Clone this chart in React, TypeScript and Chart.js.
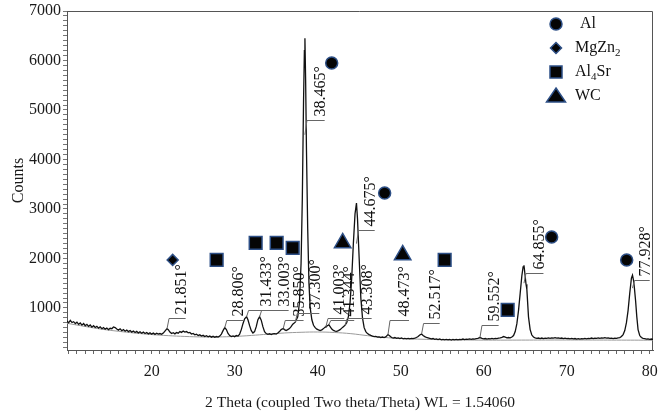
import React, { useEffect, useRef } from 'react';
import { Chart, registerables } from 'chart.js';

Chart.register(...registerables);

const SERIF = '"Liberation Serif", "Times New Roman", serif';

// Diffraction scan: [2θ (deg), intensity (counts)]
const scanLowAngle: [number, number][] = [
  [9.8, 735], [10.0, 700], [10.2, 748], [10.4, 705], [10.6, 722], [10.8, 684], [11.0, 712], [11.2, 668],
  [11.4, 695], [11.6, 652], [11.8, 684], [12.0, 640], [12.2, 668], [12.4, 628], [12.6, 655], [12.8, 612],
  [13.0, 640], [13.2, 605], [13.4, 628], [13.6, 592], [13.8, 618], [14.0, 580], [14.2, 602], [14.4, 572],
  [14.6, 594], [14.8, 562], [15.0, 588], [15.2, 580], [15.4, 615], [15.6, 604], [15.8, 575], [16.0, 552],
  [16.2, 578], [16.4, 540], [16.6, 562], [16.8, 530], [17.0, 552], [17.2, 522], [17.4, 544], [17.6, 512],
  [17.8, 534], [18.0, 505], [18.2, 526], [18.4, 496], [18.6, 518], [18.8, 490], [19.0, 512], [19.2, 484],
  [19.4, 503], [19.6, 476], [19.8, 498], [20.0, 470], [20.2, 492], [20.4, 466], [20.6, 488], [20.8, 470],
  [21.0, 482], [21.2, 466], [21.4, 492], [21.6, 532], [21.85, 582], [22.0, 560], [22.2, 512], [22.4, 482],
  [22.6, 498], [22.8, 476], [23.0, 502], [23.2, 490], [23.4, 522], [23.6, 506], [23.8, 532], [24.0, 512],
  [24.2, 522], [24.4, 496], [24.6, 504], [24.8, 472], [25.0, 484], [25.2, 456], [25.4, 468], [25.6, 442],
  [25.8, 456], [26.0, 432], [26.2, 446], [26.4, 422], [26.6, 438], [26.8, 416], [27.0, 432], [27.2, 410],
  [27.4, 426], [27.6, 406], [27.8, 422], [28.0, 412], [28.2, 432], [28.4, 472], [28.6, 542], [28.806, 602],
  [29.0, 562], [29.2, 484], [29.4, 442], [29.6, 422], [29.8, 436],
];

const scanMidAngle: [number, number][] = [
  [30.0, 420], [30.2, 442], [30.4, 432], [30.6, 472], [30.8, 562], [31.0, 682], [31.2, 782], [31.433, 822],
  [31.6, 762], [31.8, 642], [32.0, 542], [32.2, 492], [32.4, 522], [32.6, 622], [32.8, 762], [33.003, 822],
  [33.2, 752], [33.4, 622], [33.6, 522], [33.8, 482], [34.0, 466], [34.2, 478], [34.4, 462], [34.6, 474],
  [34.8, 482], [35.0, 472], [35.2, 492], [35.4, 522], [35.6, 562], [35.85, 584], [36.0, 562], [36.2, 542],
  [36.4, 562], [36.6, 582], [36.8, 622], [37.0, 672], [37.3, 712], [37.6, 822], [37.8, 1100], [38.0, 1900],
  [38.15, 3200], [38.3, 5200], [38.4, 6200], [38.465, 6450], [38.55, 5600], [38.65, 4200], [38.8, 2600],
  [38.95, 1500], [39.1, 1000], [39.3, 760], [39.5, 650], [39.7, 602], [39.9, 572], [40.1, 556], [40.3, 542],
  [40.5, 556], [40.7, 582], [40.9, 612], [41.003, 628], [41.2, 642], [41.344, 662], [41.5, 622], [41.7, 572],
  [41.9, 546], [42.1, 532], [42.3, 526], [42.5, 542], [42.7, 562], [42.9, 592], [43.1, 622], [43.308, 652],
  [43.5, 702], [43.7, 822], [43.9, 1100], [44.1, 1600], [44.3, 2300], [44.5, 2900], [44.675, 3120],
  [44.8, 2800], [45.0, 2000], [45.2, 1200], [45.4, 800], [45.6, 602], [45.8, 522], [46.0, 482], [46.2, 462],
  [46.4, 446], [46.6, 432], [46.8, 422], [47.0, 426], [47.2, 412], [47.4, 416], [47.6, 402], [47.8, 412],
  [48.0, 402], [48.2, 416], [48.473, 462], [48.7, 432], [48.9, 402], [49.1, 392], [49.3, 402], [49.5, 386],
  [49.7, 396], [49.9, 382],
];

const scanHighAngle: [number, number][] = [
  [50.1, 392], [50.3, 376], [50.5, 386], [50.7, 374], [50.9, 386], [51.1, 376], [51.3, 386], [51.5, 380],
  [51.7, 390], [51.9, 402], [52.1, 422], [52.3, 452], [52.517, 472], [52.7, 442], [52.9, 420], [53.1, 406],
  [53.3, 396], [53.5, 386], [53.7, 376], [53.9, 382], [54.1, 366], [54.3, 376], [54.5, 362], [54.7, 372],
  [54.9, 356], [55.1, 366], [55.3, 356], [55.5, 366], [55.7, 354], [55.9, 362], [56.1, 350], [56.3, 362],
  [56.5, 354], [56.7, 366], [56.9, 356], [57.1, 366], [57.3, 360], [57.5, 372], [57.7, 360], [57.9, 370],
  [58.1, 364], [58.3, 376], [58.5, 366], [58.7, 376], [58.9, 370], [59.1, 380], [59.3, 386], [59.552, 402],
  [59.8, 386], [60.0, 376], [60.2, 382], [60.4, 370], [60.6, 380], [60.8, 374], [61.0, 386], [61.2, 376],
  [61.4, 386], [61.6, 380], [61.8, 392], [62.0, 396], [62.2, 406], [62.4, 422], [62.6, 410], [62.8, 396],
  [63.0, 402], [63.2, 396], [63.4, 412], [63.6, 442], [63.8, 522], [64.0, 682], [64.2, 952], [64.4, 1300],
  [64.6, 1650], [64.75, 1830], [64.855, 1860], [65.0, 1640], [65.1, 1480], [65.2, 1380], [65.4, 820],
  [65.6, 562], [65.8, 452], [66.0, 412], [66.2, 396], [66.4, 386], [66.6, 392], [66.8, 380], [67.0, 392],
  [67.2, 380], [67.4, 390], [67.6, 384], [67.8, 396], [68.0, 386], [68.2, 396], [68.4, 390], [68.6, 400],
  [68.8, 390], [69.0, 396], [69.2, 386], [69.4, 392], [69.6, 380], [69.8, 390], [70.0, 380], [70.2, 386],
  [70.4, 376], [70.6, 386], [70.8, 374], [71.0, 382], [71.2, 370], [71.4, 380], [71.6, 370], [71.8, 380],
  [72.0, 374], [72.2, 386], [72.4, 376], [72.6, 386], [72.8, 380], [73.0, 392], [73.2, 380], [73.4, 390],
  [73.6, 384], [73.8, 396], [74.0, 386], [74.2, 396], [74.4, 390], [74.6, 400], [74.8, 390], [75.0, 396],
  [75.2, 384], [75.4, 390], [75.6, 380], [75.8, 390], [76.0, 386], [76.2, 396], [76.4, 402], [76.6, 422],
  [76.8, 462], [77.0, 542], [77.2, 702], [77.4, 952], [77.6, 1300], [77.8, 1600], [77.928, 1660],
  [78.05, 1560], [78.15, 1420], [78.3, 1150], [78.45, 820], [78.6, 562], [78.8, 442], [79.0, 402],
  [79.2, 386], [79.4, 380], [79.6, 370], [79.8, 376], [80.0, 366], [80.2, 372], [80.4, 362],
];

// Fitted background under the pattern
const backgroundFit: [number, number][] = [
  [9.8, 690], [12, 625], [14, 570], [16, 528], [18, 492], [20, 462], [22, 440], [24, 424], [26, 414],
  [28, 414], [30, 424], [32, 444], [34, 470], [36, 494], [38, 508], [40, 514], [42, 504], [44, 480],
  [46, 440], [48, 404], [50, 384], [52, 370], [56, 356], [60, 350], [64, 350], [68, 352], [72, 352],
  [76, 350], [80.4, 348],
];

// Labelled reflections: 2θ, count where the leader leaves the peak, leader height, label centre (2θ)
const peakAngles = [21.851, 28.806, 31.433, 33.003, 35.85, 37.3, 38.465, 41.003, 41.344, 43.308, 44.675, 48.473, 52.517, 59.552, 64.855, 77.928];
const leaderFrom = [580, 600, 820, 820, 584, 712, 4500, 628, 662, 652, 2300, 462, 472, 402, 1500, 1400];
const leaderLevel = [800, 760, 960, 960, 760, 900, 4800, 800, 760, 800, 2580, 760, 700, 660, 1700, 1560];
const labelAngle = [23.49, 30.4, 33.8, 35.9, 37.7, 39.6, 40.24, 42.6, 43.8, 45.9, 46.27, 50.4, 54.1, 61.2, 66.6, 79.4];

// Phase identification symbols: [2θ, counts]
const phaseNames = ['Al', 'MgZn2', 'Al4Sr', 'WC'];
const alMarks: [number, number][] = [[41.69, 5950], [48.07, 3323], [68.19, 2434], [77.23, 1970]];
const mgZn2Marks: [number, number][] = [[22.53, 1970]];
const al4SrMarks: [number, number][] = [[27.83, 1970], [32.53, 2313], [35.06, 2313], [36.99, 2212], [55.3, 1970], [62.89, 960]];
const wcMarks: [number, number][] = [[43.01, 2313], [50.24, 2070]];

const xTickLabels = [20, 30, 40, 50, 60, 70, 80];
const yTickLabels = [1000, 2000, 3000, 4000, 5000, 6000, 7000];

const MARK_FILL = '#050505';
const MARK_EDGE = '#2d4f86';

const toXY = (pairs: [number, number][]) => pairs.map(([x, y]) => ({ x, y }));

function drawSymbol(ctx: CanvasRenderingContext2D, kind: string, x: number, y: number) {
  ctx.beginPath();
  if (kind === 'circle') {
    ctx.arc(x, y, 6, 0, Math.PI * 2);
  } else if (kind === 'diamond') {
    ctx.moveTo(x, y - 5.5); ctx.lineTo(x + 5.5, y); ctx.lineTo(x, y + 5.5); ctx.lineTo(x - 5.5, y);
    ctx.closePath();
  } else if (kind === 'square') {
    ctx.rect(x - 6, y - 6, 12, 12);
  } else {
    ctx.moveTo(x, y - 8); ctx.lineTo(x + 9.5, y + 6); ctx.lineTo(x - 9.5, y + 6); ctx.closePath();
  }
  ctx.fillStyle = MARK_FILL;
  ctx.fill();
  ctx.strokeStyle = MARK_EDGE;
  ctx.lineWidth = 1.5;
  ctx.stroke();
}

// Frame along top and right of the plot area
const framePlugin = {
  id: 'frame',
  beforeDatasetsDraw(chart: any) {
    const { ctx, chartArea: a } = chart;
    ctx.save();
    ctx.strokeStyle = '#555';
    ctx.lineWidth = 1;
    ctx.beginPath();
    ctx.moveTo(a.left, a.top + 0.5);
    ctx.lineTo(a.right - 0.5, a.top + 0.5);
    ctx.lineTo(a.right - 0.5, a.bottom);
    ctx.stroke();
    ctx.restore();
  },
};

// Leaders and rotated 2θ labels for each indexed reflection
const peakLabelPlugin = {
  id: 'peakLabels',
  afterDatasetsDraw(chart: any) {
    const { ctx, scales: { x, y } } = chart;
    ctx.save();
    ctx.font = `16px ${SERIF}`;
    ctx.fillStyle = '#111';
    peakAngles.forEach((p, i) => {
      const px = x.getPixelForValue(p);
      const y0 = y.getPixelForValue(leaderFrom[i]);
      const y1 = Math.round(y.getPixelForValue(leaderLevel[i])) + 0.5;
      const lx = x.getPixelForValue(labelAngle[i]);
      ctx.strokeStyle = '#666';
      ctx.lineWidth = 1;
      ctx.beginPath();
      ctx.moveTo(px, y0);
      ctx.lineTo(px + 2, y1);
      ctx.lineTo(lx + 5, y1);
      ctx.stroke();
      ctx.save();
      ctx.translate(lx + 1, y1 - 4);
      ctx.rotate(-Math.PI / 2);
      ctx.textAlign = 'left';
      ctx.textBaseline = 'middle';
      ctx.fillText(`${p.toFixed(3)}°`, 0, 0);
      ctx.restore();
    });
    ctx.restore();
  },
};

// Phase key in the upper right corner, with subscripted formulae
const phaseKeyPlugin = {
  id: 'phaseKey',
  afterDraw(chart: any) {
    const { ctx, chartArea: a } = chart;
    const kinds = ['circle', 'diamond', 'square', 'triangle'];
    const mx = a.right - 97;
    ctx.save();
    ctx.textBaseline = 'middle';
    phaseNames.forEach((name, i) => {
      const cy = a.top + 13 + i * 24;
      drawSymbol(ctx, kinds[i], mx, cy);
      let tx = a.right - (i === 0 ? 73 : 78);
      ctx.fillStyle = '#111';
      for (const part of name.match(/[A-Za-z]+|\d+/g) || []) {
        const isSub = /\d/.test(part);
        ctx.font = isSub ? `11px ${SERIF}` : `16px ${SERIF}`;
        ctx.fillText(part, tx, isSub ? cy + 5 : cy);
        tx += ctx.measureText(part).width;
      }
    });
    ctx.restore();
  },
};

function markerSet(data: [number, number][], style: string, radius: number) {
  return {
    data: toXY(data),
    showLine: false,
    pointStyle: style,
    pointRadius: radius,
    pointBackgroundColor: MARK_FILL,
    pointBorderColor: MARK_EDGE,
    pointBorderWidth: 1.5,
    order: 0,
  };
}

export default function App() {
  const canvasRef = useRef<HTMLCanvasElement | null>(null);

  useEffect(() => {
    const canvas = canvasRef.current;
    if (!canvas) return;
    const scan = [...scanLowAngle, ...scanMidAngle, ...scanHighAngle];
    const chart = new Chart(canvas, {
      type: 'line',
      data: {
        datasets: [
          {
            data: toXY(scan),
            borderColor: '#111',
            borderWidth: 1.3,
            pointRadius: 0,
            tension: 0,
            order: 2,
          } as any,
          {
            data: toXY(backgroundFit),
            borderColor: '#9a9a9a',
            borderWidth: 1,
            pointRadius: 0,
            tension: 0.4,
            order: 3,
          },
          markerSet(alMarks, 'circle', 6),
          markerSet(mgZn2Marks, 'rectRot', 5.5),
          markerSet(al4SrMarks, 'rect', 9),
          markerSet(wcMarks, 'triangle', 9.5),
        ],
      },
      options: {
        responsive: false,
        animation: false,
        devicePixelRatio: 1,
        layout: { autoPadding: false, padding: { left: 0, top: 11, right: 6, bottom: 0 } },
        plugins: { legend: { display: false }, tooltip: { enabled: false } },
        scales: {
          x: {
            type: 'linear',
            min: 9.8,
            max: 80.4,
            afterBuildTicks: (s: any) => {
              const t = [];
              for (let v = 10; v <= 80; v += 1) t.push({ value: v });
              s.ticks = t;
            },
            afterFit: (s: any) => {
              s.height = 64;
              s.paddingLeft = 0;
              s.paddingRight = 0;
            },
            grid: { drawOnChartArea: false, tickLength: 4, tickColor: '#666' },
            border: { color: '#555' },
            ticks: {
              autoSkip: false,
              maxRotation: 0,
              padding: 8,
              color: '#1a1a1a',
              font: { family: SERIF, size: 16 },
              callback: (v: any) => (xTickLabels.includes(Number(v)) ? String(v) : ''),
            },
            title: {
              display: true,
              text: '2 Theta (coupled Two theta/Theta) WL = 1.54060',
              color: '#1a1a1a',
              font: { family: SERIF, size: 15.5 },
              padding: { top: 0, bottom: 2 },
            },
          },
          y: {
            type: 'linear',
            min: 150,
            max: 7000,
            afterBuildTicks: (s: any) => {
              const t = [];
              for (let v = 200; v <= 7000; v += 100) t.push({ value: v });
              s.ticks = t;
            },
            afterFit: (s: any) => {
              s.width = 67;
              s.paddingTop = 0;
              s.paddingBottom = 0;
            },
            grid: { drawOnChartArea: false, tickLength: 4, tickColor: '#777' },
            border: { color: '#555' },
            ticks: {
              autoSkip: false,
              padding: 2,
              color: '#1a1a1a',
              font: { family: SERIF, size: 16 },
              callback: (v: any) => (yTickLabels.includes(Number(v)) ? String(v) : ''),
            },
            title: {
              display: true,
              text: 'Counts',
              color: '#1a1a1a',
              font: { family: SERIF, size: 16 },
              padding: { top: 9, bottom: 0 },
            },
          },
        },
      },
      plugins: [framePlugin, peakLabelPlugin, phaseKeyPlugin],
    });
    return () => chart.destroy();
  }, []);

  return (
    <div style={{ position: 'absolute', left: 0, top: 0, width: 659, height: 414, background: '#fff' }}>
      <canvas ref={canvasRef} width={659} height={414} />
    </div>
  );
}
